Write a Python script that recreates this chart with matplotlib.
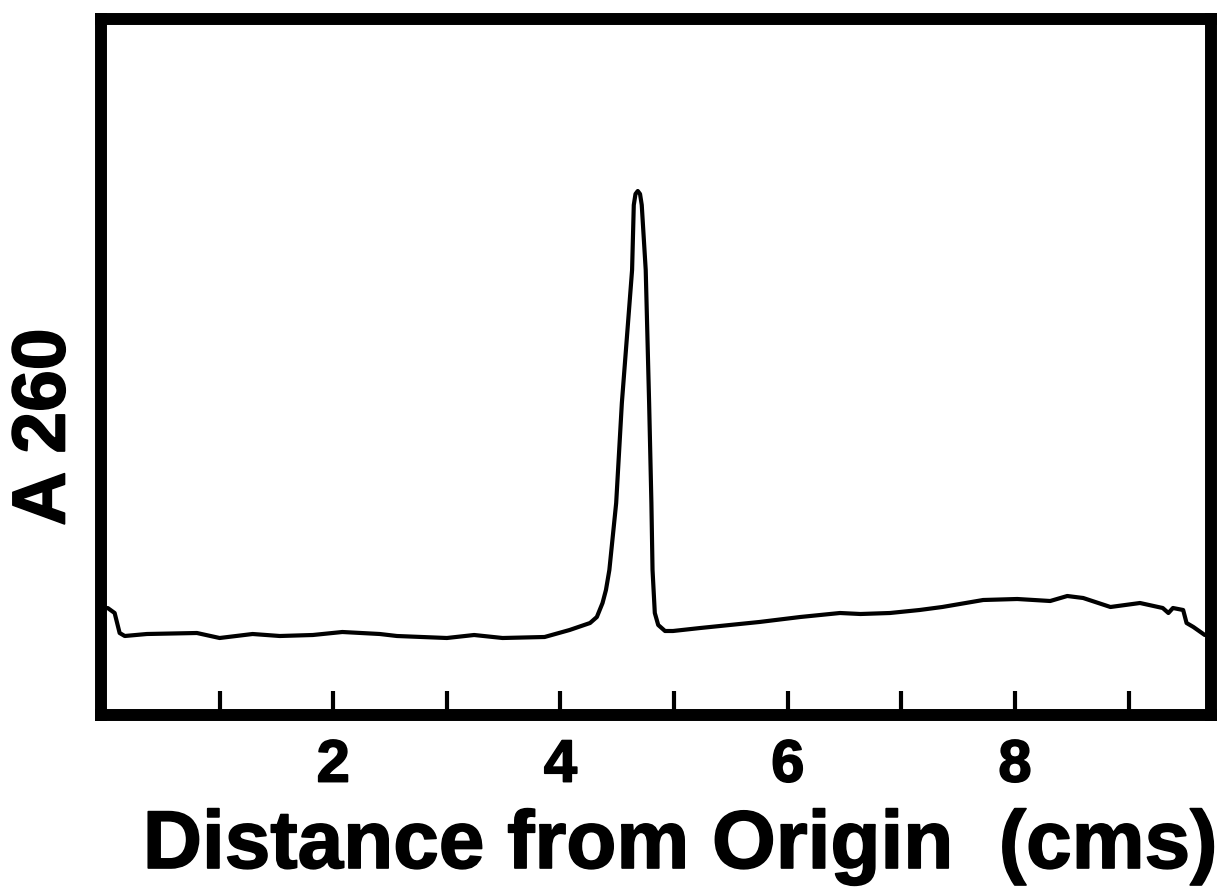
import matplotlib.pyplot as plt
import matplotlib.patheffects as pe

plt.rcParams['font.family'] = ['Liberation Sans', 'DejaVu Sans']

# scan trace (x in cm, y in arbitrary absorbance units)
distance = [0.015, 0.076, 0.12, 0.165, 0.36, 0.80, 1.00, 1.29, 1.53, 1.82,
            2.08, 2.41, 2.56, 3.00, 3.24, 3.49, 3.86, 4.08, 4.26, 4.32,
            4.37, 4.40, 4.43, 4.49, 4.54, 4.63, 4.645, 4.66, 4.68, 4.70,
            4.715, 4.75, 4.78, 4.80, 4.81, 4.83, 4.86, 4.92, 4.99, 5.23,
            5.75, 6.11, 6.46, 6.64, 6.90, 7.16, 7.36, 7.72, 8.02, 8.31,
            8.46, 8.60, 8.84, 9.10, 9.30, 9.35, 9.39, 9.48, 9.51, 9.57, 9.67]
a260 = [1.07, 1.02, 0.82, 0.79, 0.81, 0.82, 0.77, 0.81, 0.79, 0.80,
        0.83, 0.81, 0.79, 0.77, 0.80, 0.77, 0.78, 0.85, 0.92, 0.98,
        1.12, 1.25, 1.45, 2.12, 3.12, 4.45, 5.10, 5.21, 5.24, 5.21,
        5.10, 4.45, 3.12, 2.12, 1.45, 1.02, 0.90, 0.84, 0.84, 0.87,
        0.93, 0.98, 1.02, 1.01, 1.02, 1.05, 1.08, 1.15, 1.16, 1.14,
        1.19, 1.17, 1.08, 1.12, 1.07, 1.02, 1.07, 1.05, 0.92, 0.88, 0.80]

tick_pos = [1, 2, 3, 4, 5, 6, 7, 8, 9]
tick_labels = ['', '2', '', '4', '', '6', '', '8', '']

heavy = [pe.withStroke(linewidth=1.2, foreground='black')]

fig = plt.figure(figsize=(12.2, 8.9), dpi=100)
ax = fig.add_axes([101 / 1220, 1 - 715 / 890, 1110 / 1220, 696 / 890])

ax.plot(distance, a260, color='black', lw=3.0, solid_joinstyle='round',
        solid_capstyle='round')

ax.set_xlim(-0.044, 9.725)
ax.set_ylim(0, 6.96)
ax.set_yticks([])
ax.set_xticks(tick_pos)
ax.set_xticklabels(tick_labels, fontsize=43, fontweight='bold')
for lab in ax.get_xticklabels():
    lab.set_path_effects(heavy)
ax.tick_params(axis='x', direction='in', length=17, width=3.0, pad=17)

for sp in ax.spines.values():
    sp.set_linewidth(8.6)
    sp.set_color('black')

fig.text(681 / 1220, 1 - 847 / 890, 'Distance from Origin  (cms)',
         fontsize=59, fontweight='bold', ha='center', va='center',
         path_effects=heavy)
fig.text(45 / 1220, 1 - 427 / 890, 'A 260', rotation=90,
         fontsize=54, fontweight='bold', ha='center', va='center',
         path_effects=heavy)

fig.savefig('out.png', dpi=100)
